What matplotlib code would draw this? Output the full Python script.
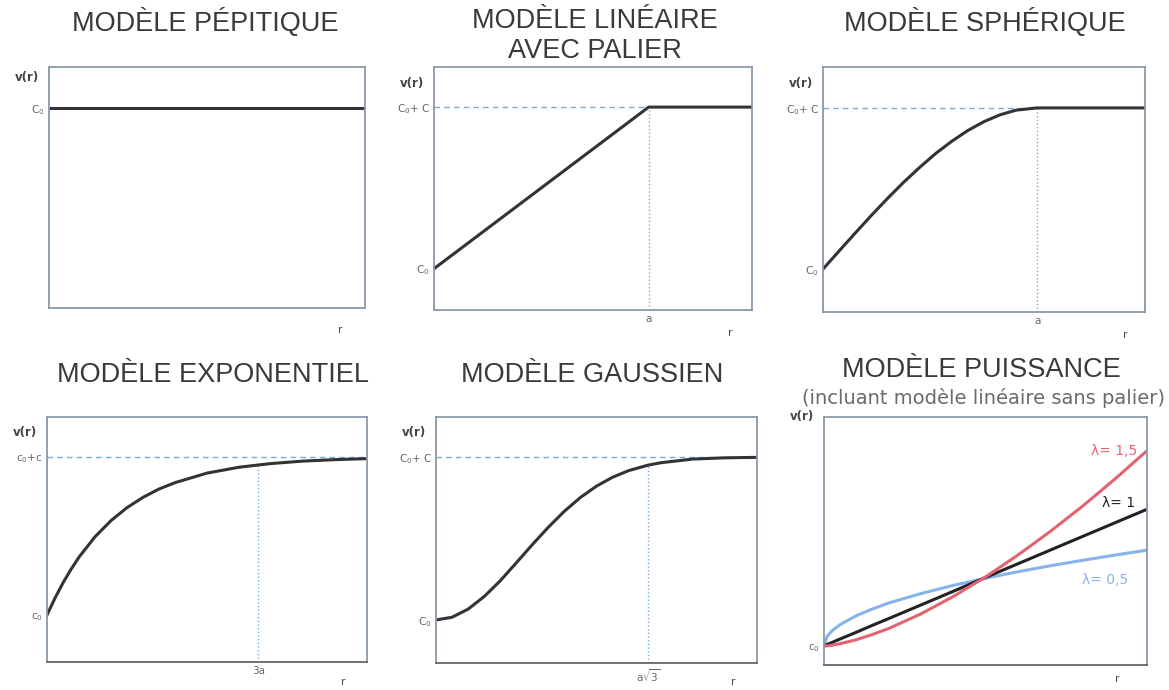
import matplotlib.pyplot as plt

plt.rcParams['font.family'] = ['DejaVu Sans']

# variogrammes théoriques (r de 0 à 10, gamma de 0 à 10)
pep_r = [0, 10]
pep_g = [8.3, 8.3]
pep_c0 = 8.3

lin_r = [0, 6.75, 10]
lin_g = [1.7, 8.35, 8.35]
lin_c0, lin_sill, lin_a = 1.7, 8.35, 6.75

sph_r = [0, 0.5, 1.0, 1.5, 2.0, 2.5, 3.0, 3.5, 4.0, 4.5, 5.0, 5.5, 6.0, 6.65, 10]
sph_g = [1.75, 2.49, 3.22, 3.94, 4.63, 5.29, 5.90, 6.47, 6.97, 7.41, 7.77, 8.05, 8.24, 8.33, 8.33]
sph_c0, sph_sill, sph_a = 1.75, 8.33, 6.65

exp_r = [0, 0.25, 0.5, 0.75, 1.0, 1.5, 2.0, 2.5, 3.0, 3.5, 4.0, 5.0, 6.0, 7.0, 8.0, 9.0, 10]
exp_g = [1.92, 2.61, 3.23, 3.78, 4.28, 5.11, 5.77, 6.30, 6.72, 7.06, 7.32, 7.71, 7.95, 8.10, 8.20, 8.26, 8.30]
exp_c0, exp_sill, exp_3a = 1.92, 8.37, 6.6

gau_r = [0, 0.5, 1.0, 1.5, 2.0, 2.5, 3.0, 3.5, 4.0, 4.5, 5.0, 5.5, 6.0, 6.6, 7.0, 8.0, 9.0, 10]
gau_g = [1.75, 1.86, 2.19, 2.70, 3.34, 4.07, 4.81, 5.52, 6.17, 6.73, 7.19, 7.55, 7.82, 8.04, 8.14, 8.29, 8.34, 8.36]
gau_c0, gau_sill, gau_a3 = 1.75, 8.37, 6.6

pow_r = [0, 0.1, 0.25, 0.5, 1, 1.5, 2, 3, 4, 5, 6, 7, 8, 9, 10]
pow_g05 = [0.77, 1.16, 1.38, 1.63, 1.99, 2.26, 2.50, 2.88, 3.21, 3.50, 3.76, 4.00, 4.22, 4.43, 4.63]
pow_g1 = [0.77, 0.83, 0.91, 1.05, 1.32, 1.60, 1.87, 2.42, 2.97, 3.53, 4.08, 4.63, 5.18, 5.73, 6.28]
pow_g15 = [0.77, 0.77, 0.80, 0.86, 1.02, 1.23, 1.47, 2.06, 2.76, 3.55, 4.43, 5.38, 6.40, 7.49, 8.64]
pow_c0 = 0.77
pow_labels = ['λ= 0,5', 'λ= 1', 'λ= 1,5']

W, H = 1169, 690
fig = plt.figure(figsize=(W / 100, H / 100), dpi=100)

frame_col = '#8a99aa'
guide_col = '#7aaad8'
curve_col = '#333333'
title_col = '#3a3a3a'
LW = 2.2


def make_axes(x0, y0, x1, y1, vr_y, r_x, r_dy):
    # boîte en pixels (origine en haut à gauche)
    ax = fig.add_axes([x0 / W, 1 - y1 / H, (x1 - x0) / W, (y1 - y0) / H])
    ax.set_xlim(0, 10)
    ax.set_ylim(0, 10)
    for s in ax.spines.values():
        s.set_color(frame_col)
        s.set_linewidth(1.3)
    ax.tick_params(length=0, labelsize=7.5, labelcolor='#666666', pad=3)
    ax.set_xticks([])
    ax.set_yticks([])
    ax.text(-0.03, vr_y, 'v(r)', transform=ax.transAxes, ha='right', va='center',
            fontsize=8.5, fontweight='bold', color='#444444')
    ax.text(r_x, -r_dy / (y1 - y0), 'r', transform=ax.transAxes, ha='center',
            va='center', fontsize=7.5, color='#444444')
    return ax


def guides(ax, x, y):
    ax.plot([0, x], [y, y], lw=1.0, color=guide_col, dashes=(4, 3))
    ax.plot([x, x], [0, y], ls=':', lw=1.0, color=guide_col)


# modèle pépitique
ax1 = make_axes(49, 67, 365, 308, 0.958, 0.92, 22)
ax1.plot(pep_r, pep_g, color=curve_col, lw=LW)
ax1.set_yticks([pep_c0], ['C$_0$'])

# modèle linéaire avec palier
ax2 = make_axes(434, 67, 752, 310, 0.934, 0.93, 23)
guides(ax2, lin_a, lin_sill)
ax2.plot(lin_r, lin_g, color=curve_col, lw=LW)
ax2.set_yticks([lin_c0, lin_sill], ['C$_0$', 'C$_0$+ C'])
ax2.set_xticks([lin_a], ['a'])

# modèle sphérique
ax3 = make_axes(823, 67, 1145, 312, 0.934, 0.94, 23)
guides(ax3, sph_a, sph_sill)
ax3.plot(sph_r, sph_g, color=curve_col, lw=LW)
ax3.set_yticks([sph_c0, sph_sill], ['C$_0$', 'C$_0$+ C'])
ax3.set_xticks([sph_a], ['a'])

# modèle exponentiel
ax4 = make_axes(47, 417, 367, 662, 0.935, 0.925, 20)
ax4.plot([0, 10], [exp_sill, exp_sill], lw=1.0, color=guide_col, dashes=(4, 3))
ax4.plot([exp_3a, exp_3a], [0, 8.0], ls=':', lw=1.0, color=guide_col)
ax4.plot(exp_r, exp_g, color=curve_col, lw=LW)
ax4.set_yticks([exp_c0, exp_sill], ['c$_0$', 'c$_0$+c'])
ax4.set_xticks([exp_3a], ['3a'])
ax4.spines['bottom'].set_color('#666666')

# modèle gaussien
ax5 = make_axes(436, 417, 757, 663, 0.935, 0.925, 19)
ax5.plot([0, 10], [gau_sill, gau_sill], lw=1.0, color=guide_col, dashes=(4, 3))
ax5.plot([gau_a3, gau_a3], [0, gau_g[gau_r.index(6.6)]], ls=':', lw=1.0, color=guide_col)
ax5.plot(gau_r, gau_g, color=curve_col, lw=LW)
ax5.set_yticks([gau_c0, gau_sill], ['C$_0$', 'C$_0$+ C'])
ax5.set_xticks([gau_a3], [r'a$\sqrt{3}$'])
ax5.spines['bottom'].set_color('#666666')

# modèle puissance
ax6 = make_axes(824, 417, 1147, 665, 1.0, 0.907, 14)
pow_cols = ['#86b4ea', '#222222', '#e26472']
lab_pos = [(9.41, -1.2), (9.63, 0.25), (9.69, 0.0)]
for g, c, lab, (lx, dy) in zip([pow_g05, pow_g1, pow_g15], pow_cols, pow_labels, lab_pos):
    ax6.plot(pow_r, g, color=c, lw=LW)
    ax6.text(lx, g[-1] + dy, lab, color=c, fontsize=10, ha='right', va='center')
ax6.set_yticks([pow_c0], ['c$_0$'])
ax6.spines['bottom'].set_color('#666666')

# titres
tkw = dict(ha='center', va='center', fontsize=19.5, color=title_col,
           family=['Liberation Sans', 'DejaVu Sans'])
fig.text(205 / W, 1 - 23 / H, 'MODÈLE PÉPITIQUE', **tkw)
fig.text(595 / W, 1 - 36 / H, 'MODÈLE LINÉAIRE\nAVEC PALIER', linespacing=1.2, **tkw)
fig.text(985 / W, 1 - 23 / H, 'MODÈLE SPHÉRIQUE', **tkw)
fig.text(213 / W, 1 - 375 / H, 'MODÈLE EXPONENTIEL', **tkw)
fig.text(592 / W, 1 - 375 / H, 'MODÈLE GAUSSIEN', **tkw)
fig.text(981 / W, 1 - 370 / H, 'MODÈLE PUISSANCE', **tkw)
fig.text(983 / W, 1 - 398 / H, '(incluant modèle linéaire sans palier)',
         ha='center', va='center', fontsize=14, color='#6a6a6a')

fig.savefig('out.png', dpi=100)
